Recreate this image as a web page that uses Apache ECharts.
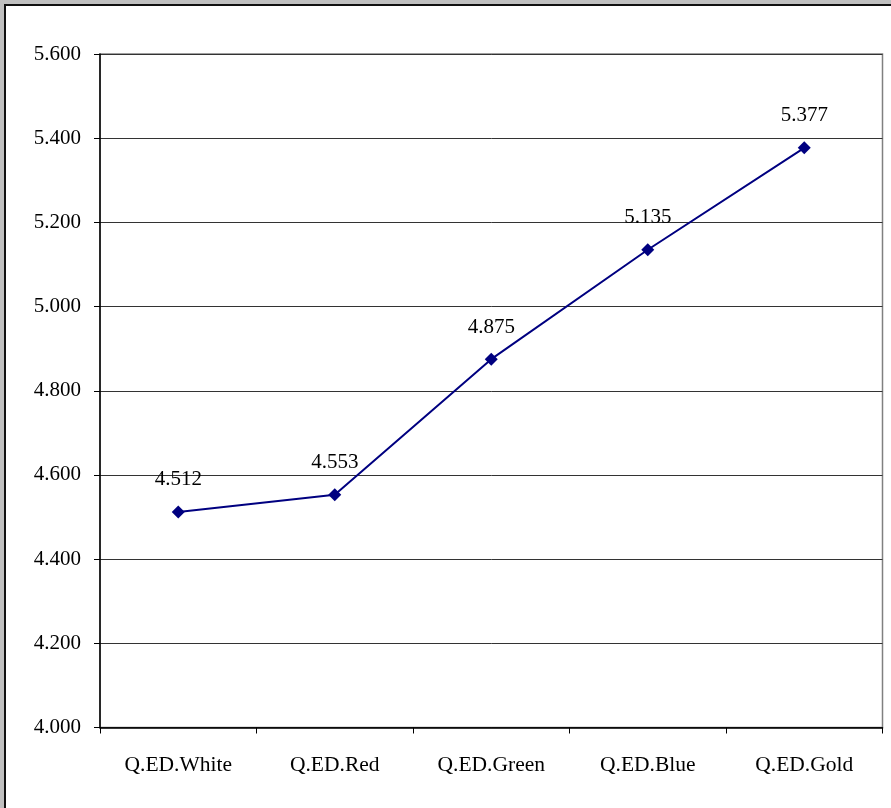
<!DOCTYPE html>
<html>
<head>
<meta charset="utf-8">
<script src="https://cdn.jsdelivr.net/npm/echarts@6/dist/echarts.min.js"></script>
<style>
html,body{margin:0;padding:0;background:#c0c0c0;overflow:hidden;}
#frame{position:absolute;left:4px;top:4px;width:900px;height:820px;background:#fff;border-left:2px solid #111;border-top:2px solid #111;}
#chart{position:absolute;left:0;top:0;width:891px;height:808px;}
</style>
</head>
<body>
<div id="frame"></div>
<div id="chart"></div>
<script>
const categories = ['Q.ED.White', 'Q.ED.Red', 'Q.ED.Green', 'Q.ED.Blue', 'Q.ED.Gold'];
const values = [4.512, 4.553, 4.875, 5.135, 5.377];
const yMin = 4.0, yMax = 5.6, yStep = 0.2;

const FONT = 'Liberation Serif';
const chart = echarts.init(document.getElementById('chart'), null, {renderer: 'canvas'});
chart.setOption({
  backgroundColor: 'transparent',
  animation: false,
  grid: {left: 100, top: 54, right: 8.5, bottom: 80.5, show: true, borderColor: '#808080', borderWidth: 1.5, backgroundColor: 'transparent'},
  xAxis: {
    type: 'category',
    data: categories,
    boundaryGap: true,
    axisLine: {lineStyle: {color: '#000', width: 1.5}},
    axisTick: {show: true, inside: false, length: 6, lineStyle: {color: '#000', width: 1}},
    axisLabel: {margin: 27, color: '#000', fontFamily: FONT, fontSize: 21.5},
    splitLine: {show: false}
  },
  yAxis: {
    type: 'value',
    min: yMin, max: yMax, interval: yStep,
    axisLine: {show: true, lineStyle: {color: '#000', width: 1.5}},
    axisTick: {show: true, inside: false, length: 6, lineStyle: {color: '#000', width: 1}},
    axisLabel: {margin: 19, color: '#000', fontFamily: FONT, fontSize: 21, formatter: v => v.toFixed(3)},
    splitLine: {show: true, lineStyle: {color: '#333', width: 1}}
  },
  series: [{
    type: 'line',
    data: values,
    symbol: 'diamond',
    symbolSize: 13,
    lineStyle: {color: '#000080', width: 2},
    itemStyle: {color: '#000080'},
    label: {show: true, position: 'top', distance: 15, color: '#000', fontFamily: FONT, fontSize: 21, formatter: p => p.value.toFixed(3)}
  }]
});
</script>
</body>
</html>
